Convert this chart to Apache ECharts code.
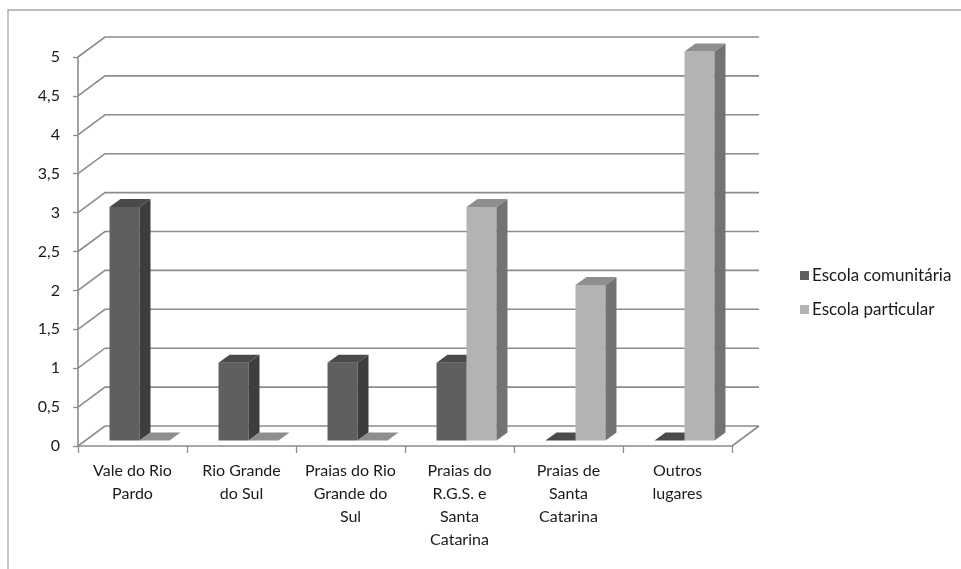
<!DOCTYPE html>
<html>
<head>
<meta charset="utf-8">
<style>
  html, body { margin: 0; padding: 0; background: #fff; }
  #chart { width: 961px; height: 569px; }
</style>
<script src="https://cdn.jsdelivr.net/npm/echarts@6/dist/echarts.min.js"></script>
</head>
<body>
<div id="chart"></div>
<script>
// Categories (regions) and values per school type
const categories = [
  'Vale do Rio\nPardo',
  'Rio Grande\ndo Sul',
  'Praias do Rio\nGrande do\nSul',
  'Praias do\nR.G.S. e\nSanta\nCatarina',
  'Praias de\nSanta\nCatarina',
  'Outros\nlugares'
];
const escolaComunitaria = [3, 1, 1, 1, 0, 0];
const escolaParticular = [0, 0, 0, 3, 2, 5];
const yTicks = [0, 0.5, 1, 1.5, 2, 2.5, 3, 3.5, 4, 4.5, 5];

// Pseudo-3D depth offsets (pixels)
const WALL = [27, -20];      // back wall offset
const BAR_FRONT = [7, -5.5];  // bar front face offset
const BAR_BACK = [18, -13.5]; // bar back face offset
const GRID_COLOR = '#8c8c8c';
const TEXT_COLOR = '#1a1a1a';

const palettes = [
  { front: '#5f5f5f', side: '#3d3d3d', top: '#4a4a4a' },
  { front: '#b3b3b3', side: '#737373', top: '#8e8e8e' }
];

function makeBarRenderer(seriesIdx) {
  return function (params, api) {
    const cat = api.value(0);
    const val = api.value(1);
    const p = api.coord([cat, val]);
    const p0 = api.coord([cat, 0]);
    const band = api.size([1, 0])[0];
    const w = band * 0.275;
    const xL = p[0] - w + seriesIdx * w;
    const c = palettes[seriesIdx];
    const fx = BAR_FRONT[0], fy = BAR_FRONT[1], bx = BAR_BACK[0], by = BAR_BACK[1];
    const yt = p[1], yb = p0[1];
    const children = [];
    if (yb - yt > 0.5) {
      children.push({
        type: 'rect',
        shape: { x: xL + fx, y: yt + fy, width: w, height: yb - yt },
        style: { fill: c.front }
      });
      children.push({
        type: 'polygon',
        shape: { points: [[xL + w + fx, yt + fy], [xL + w + bx, yt + by], [xL + w + bx, yb + by], [xL + w + fx, yb + fy]] },
        style: { fill: c.side }
      });
    }
    children.push({
      type: 'polygon',
      shape: { points: [[xL + fx, yt + fy], [xL + bx, yt + by], [xL + w + bx, yt + by], [xL + w + fx, yt + fy]] },
      style: { fill: c.top }
    });
    return { type: 'group', children: children };
  };
}

function renderWallLine(params, api) {
  const v = api.value(1);
  const cs = params.coordSys;
  const p = api.coord([0, v]);
  const left = cs.x, right = cs.x + cs.width;
  const y = p[1];
  const children = [{
    type: 'polyline',
    shape: { points: [[left, y], [left + WALL[0], y + WALL[1]], [right + WALL[0], y + WALL[1]]] },
    style: { stroke: GRID_COLOR, lineWidth: 1.6, fill: null }
  }];
  if (v === 0) {
    children.push({
      type: 'line',
      shape: { x1: right, y1: y, x2: right + WALL[0], y2: y + WALL[1] },
      style: { stroke: GRID_COLOR, lineWidth: 1.6 }
    });
  }
  return { type: 'group', children: children };
}

const chart = echarts.init(document.getElementById('chart'), null, { renderer: 'canvas' });
const FONT = 'Lato, "Open Sans", sans-serif';

chart.setOption({
  animation: false,
  graphic: [{
    type: 'rect',
    shape: { x: 8, y: 10, width: 1200, height: 1200 },
    style: { fill: null, stroke: '#a6a6a6', lineWidth: 1.3 },
    z: 0, silent: true
  }],
  legend: {
    orient: 'vertical',
    left: 800,
    top: 267,
    padding: 0,
    itemWidth: 9,
    itemHeight: 9,
    itemGap: 17,
    icon: 'rect',
    textStyle: { fontFamily: FONT, fontSize: 17, color: TEXT_COLOR, lineHeight: 17, padding: [0, 0, 0, -2] },
    data: ['Escola comunitária', 'Escola particular']
  },
  grid: { left: 78, right: 229, top: 57, bottom: 123 },
  xAxis: {
    type: 'category',
    data: categories,
    boundaryGap: true,
    axisLine: { show: true, lineStyle: { color: GRID_COLOR, width: 1.6 } },
    axisTick: { show: true, length: 7, lineStyle: { color: GRID_COLOR, width: 1.3 } },
    axisLabel: {
      interval: 0, margin: 13,
      fontFamily: FONT, fontSize: 16, color: TEXT_COLOR, lineHeight: 23
    },
    splitLine: { show: false }
  },
  yAxis: {
    type: 'value',
    min: 0, max: 5, interval: 0.5,
    axisLine: { show: true, lineStyle: { color: GRID_COLOR, width: 1.6 } },
    axisTick: { show: true, length: 5, lineStyle: { color: GRID_COLOR, width: 1.3 } },
    axisLabel: {
      margin: 18,
      fontFamily: FONT, fontSize: 16, color: TEXT_COLOR,
      formatter: function (v) { return String(v).replace('.', ','); }
    },
    splitLine: { show: false }
  },
  series: [
    {
      type: 'custom',
      name: 'wall',
      z: 1,
      silent: true,
      renderItem: renderWallLine,
      data: yTicks.map(function (v) { return [0, v]; })
    },
    {
      type: 'custom',
      name: 'Escola comunitária',
      z: 3,
      itemStyle: { color: palettes[0].front },
      renderItem: makeBarRenderer(0),
      data: escolaComunitaria.map(function (v, i) { return [i, v]; })
    },
    {
      type: 'custom',
      name: 'Escola particular',
      z: 4,
      itemStyle: { color: palettes[1].front },
      renderItem: makeBarRenderer(1),
      data: escolaParticular.map(function (v, i) { return [i, v]; })
    }
  ]
});
</script>
</body>
</html>
